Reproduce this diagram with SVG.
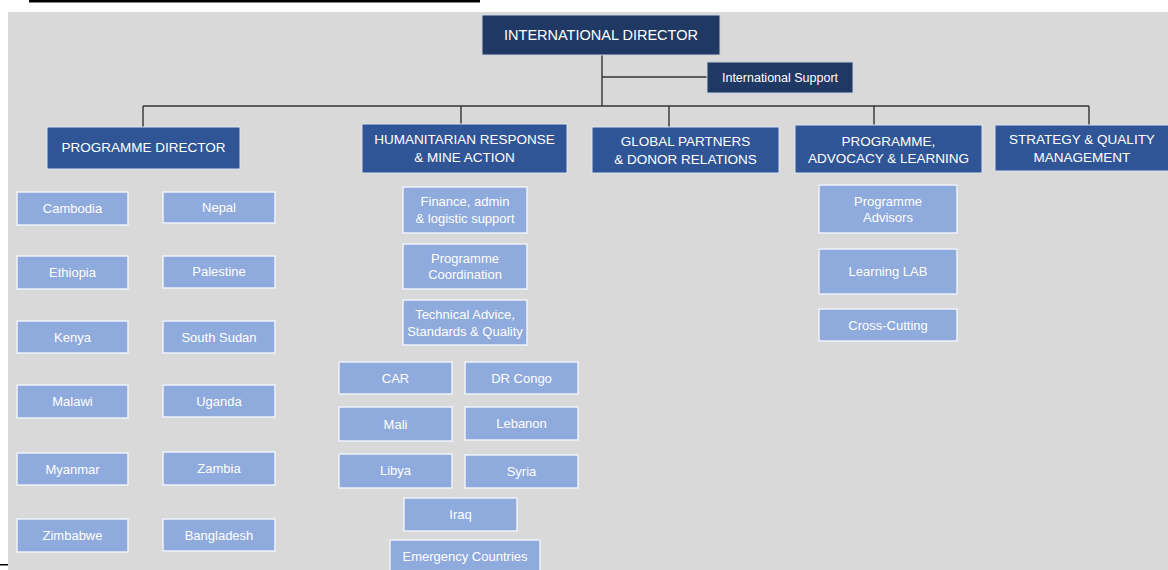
<svg xmlns="http://www.w3.org/2000/svg" width="1168" height="570" viewBox="0 0 1168 570">
<style>
text{font-family:"Liberation Sans",Arial,sans-serif;fill:#fff;text-anchor:middle}
.top rect{fill:#203864;stroke:#c9d1e0;stroke-width:1}
.mid rect{fill:#2F5597;stroke:#dde3ee;stroke-width:1}
.sub rect{fill:#8FAADC;stroke:#eef2f8;stroke-width:1.5}
.top text{font-size:14.5px}
.mid text{font-size:13.5px}
.sub text{font-size:13px}
.conn line{stroke:#333;stroke-width:1.4;fill:none}
</style>
<rect x="0" y="0" width="1168" height="570" fill="#fff"/>
<rect x="8" y="12" width="1160" height="558" fill="#D9D9D9"/>
<rect x="29" y="0" width="451" height="2.5" fill="#000"/>
<rect x="0" y="564" width="8" height="1.5" fill="#000"/>

<g class="conn">
<line x1="602" y1="55" x2="602" y2="106"/>
<line x1="602" y1="77" x2="707" y2="77"/>
<line x1="143" y1="106" x2="1089" y2="106"/>
<line x1="143" y1="106" x2="143" y2="127"/>
<line x1="461" y1="106" x2="461" y2="124"/>
<line x1="669" y1="106" x2="669" y2="127"/>
<line x1="874" y1="106" x2="874" y2="125"/>
<line x1="1089" y1="106" x2="1089" y2="125"/>
</g>

<g id="international-director" class="top"><rect x="482" y="15" width="238" height="40"/><text x="601" y="39.5">INTERNATIONAL DIRECTOR</text></g>
<g id="international-support" class="top"><rect x="707" y="62" width="146" height="31"/><text x="780" y="81.5" style="font-size:12.5px">International Support</text></g>

<g id="programme-director" class="mid"><rect x="47" y="127" width="193" height="42"/><text x="143.5" y="152">PROGRAMME DIRECTOR</text></g>
<g id="humanitarian" class="mid"><rect x="362" y="124" width="205" height="49"/><text x="464.5" y="143.5">HUMANITARIAN RESPONSE</text><text x="464.5" y="161.5">&amp; MINE ACTION</text></g>
<g id="global-partners" class="mid"><rect x="592" y="127" width="187" height="46"/><text x="685.5" y="146">GLOBAL PARTNERS</text><text x="685.5" y="164">&amp; DONOR RELATIONS</text></g>
<g id="programme-advocacy" class="mid"><rect x="795" y="125" width="187" height="48"/><text x="888.5" y="146">PROGRAMME,</text><text x="888.5" y="163">ADVOCACY &amp; LEARNING</text></g>
<g id="strategy-quality" class="mid"><rect x="995" y="125" width="180" height="46"/><text x="1082" y="144">STRATEGY &amp; QUALITY</text><text x="1082" y="162">MANAGEMENT</text></g>

<g id="cambodia" class="sub"><rect x="17" y="192" width="111" height="33"/><text x="72.5" y="212.5">Cambodia</text></g>
<g id="nepal" class="sub"><rect x="163" y="192" width="112" height="31"/><text x="219" y="211.5">Nepal</text></g>
<g id="ethiopia" class="sub"><rect x="17" y="256" width="111" height="33"/><text x="72.5" y="276.5">Ethiopia</text></g>
<g id="palestine" class="sub"><rect x="163" y="256" width="112" height="32"/><text x="219" y="275.5">Palestine</text></g>
<g id="kenya" class="sub"><rect x="17" y="321" width="111" height="32"/><text x="72.5" y="341.5">Kenya</text></g>
<g id="south-sudan" class="sub"><rect x="163" y="321" width="112" height="32"/><text x="219" y="341.5">South Sudan</text></g>
<g id="malawi" class="sub"><rect x="17" y="385" width="111" height="33"/><text x="72.5" y="405.5">Malawi</text></g>
<g id="uganda" class="sub"><rect x="163" y="385" width="112" height="32"/><text x="219" y="405.5">Uganda</text></g>
<g id="myanmar" class="sub"><rect x="17" y="453" width="111" height="32"/><text x="72.5" y="473.5">Myanmar</text></g>
<g id="zambia" class="sub"><rect x="163" y="452" width="112" height="33"/><text x="219" y="472.5">Zambia</text></g>
<g id="zimbabwe" class="sub"><rect x="17" y="519" width="111" height="33"/><text x="72.5" y="539.5">Zimbabwe</text></g>
<g id="bangladesh" class="sub"><rect x="163" y="519" width="112" height="32"/><text x="219" y="539.5">Bangladesh</text></g>

<g id="finance" class="sub"><rect x="403" y="187" width="124" height="46"/><text x="465" y="205.5">Finance, admin</text><text x="465" y="222.5">&amp; logistic support</text></g>
<g id="programme-coordination" class="sub"><rect x="403" y="244" width="124" height="45"/><text x="465" y="262.5">Programme</text><text x="465" y="278.5">Coordination</text></g>
<g id="technical-advice" class="sub"><rect x="403" y="300" width="124" height="45"/><text x="465" y="318.5">Technical Advice,</text><text x="465" y="335.5">Standards &amp; Quality</text></g>
<g id="car" class="sub"><rect x="339" y="362" width="113" height="32"/><text x="395.5" y="382.5">CAR</text></g>
<g id="dr-congo" class="sub"><rect x="465" y="362" width="113" height="32"/><text x="521.5" y="382.5">DR Congo</text></g>
<g id="mali" class="sub"><rect x="339" y="407" width="113" height="34"/><text x="395.5" y="428.5">Mali</text></g>
<g id="lebanon" class="sub"><rect x="465" y="407" width="113" height="33"/><text x="521.5" y="427.5">Lebanon</text></g>
<g id="libya" class="sub"><rect x="339" y="454" width="113" height="34"/><text x="395.5" y="474.5">Libya</text></g>
<g id="syria" class="sub"><rect x="465" y="455" width="113" height="33"/><text x="521.5" y="475.5">Syria</text></g>
<g id="iraq" class="sub"><rect x="404" y="498" width="113" height="33"/><text x="460.5" y="518.5">Iraq</text></g>
<g id="emergency" class="sub"><rect x="390" y="540" width="150" height="40"/><text x="465" y="560.5">Emergency Countries</text></g>

<g id="programme-advisors" class="sub"><rect x="819" y="185" width="138" height="48"/><text x="888" y="205.5">Programme</text><text x="888" y="221.5">Advisors</text></g>
<g id="learning-lab" class="sub"><rect x="819" y="249" width="138" height="45"/><text x="888" y="276">Learning LAB</text></g>
<g id="cross-cutting" class="sub"><rect x="819" y="309" width="138" height="32"/><text x="888" y="329.5">Cross-Cutting</text></g>
</svg>
